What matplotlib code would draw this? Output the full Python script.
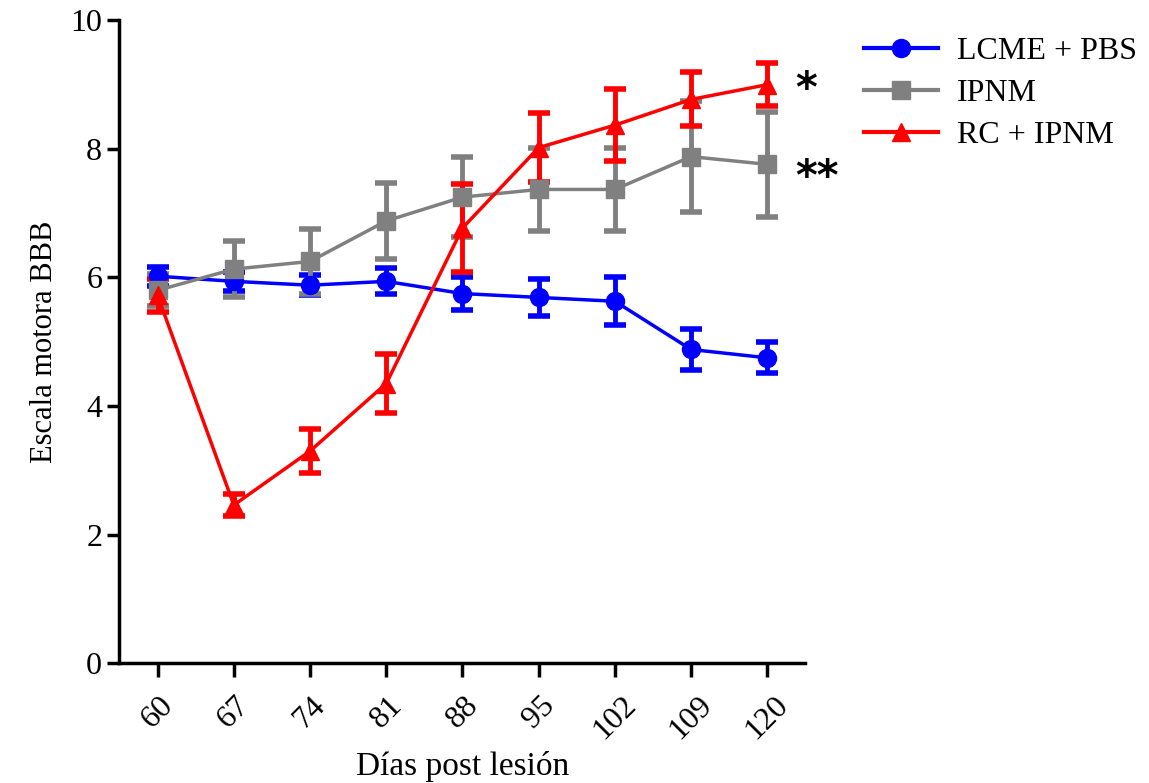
import numpy as np
import matplotlib.pyplot as plt
from matplotlib.lines import Line2D

plt.rcParams['font.family'] = ['Liberation Serif', 'DejaVu Serif']

# Days after injury (categorical x axis)
days = ["60", "67", "74", "81", "88", "95", "102", "109", "120"]

# BBB locomotor score, mean and error
lcme_mean = [6.02, 5.94, 5.88, 5.94, 5.75, 5.69, 5.63, 4.88, 4.75]
lcme_err = [0.15, 0.15, 0.16, 0.20, 0.25, 0.29, 0.37, 0.32, 0.24]

ipnm_mean = [5.80, 6.13, 6.25, 6.88, 7.25, 7.37, 7.37, 7.88, 7.76]
ipnm_err = [0.25, 0.44, 0.50, 0.59, 0.62, 0.65, 0.65, 0.86, 0.82]

rc_mean = [5.72, 2.46, 3.30, 4.35, 6.77, 8.02, 8.37, 8.77, 9.00]
rc_err = [0.25, 0.17, 0.34, 0.46, 0.68, 0.54, 0.56, 0.42, 0.33]

series = [
    ("LCME + PBS", lcme_mean, lcme_err, "#0000ff", "o"),
    ("IPNM", ipnm_mean, ipnm_err, "#808080", "s"),
    ("RC + IPNM", rc_mean, rc_err, "#ff0000", "^"),
]

x = np.arange(len(days))

fig = plt.figure(figsize=(11.49, 7.83), dpi=100)
ax = fig.add_axes([0.104, 0.153, 0.597, 0.821])

handles = []
for name, mean, err, col, mk in series:
    ax.errorbar(x, mean, yerr=err, color=col, marker=mk, markersize=13,
                linewidth=2.5, elinewidth=3.5, capsize=8, capthick=4,
                clip_on=False)
    handles.append(Line2D([], [], color=col, marker=mk, markersize=13,
                          linewidth=3, label=name))

# significance marks
ax.text(8.36, 8.91, "*", fontsize=30, fontweight="bold", family="DejaVu Sans",
        ha="left", va="center")
ax.text(8.36, 7.55, "**", fontsize=30, fontweight="bold", family="DejaVu Sans",
        ha="left", va="center")

ax.set_xlim(-0.5, 8.5)
ax.set_ylim(0, 10)
ax.set_xticks(x)
ax.set_xticklabels(days, rotation=45, ha="center", fontsize=23)
ax.set_yticks([0, 2, 4, 6, 8, 10])
ax.tick_params(axis="y", labelsize=23, width=2.5, length=9)
ax.tick_params(axis="x", width=2.5, length=10, pad=10)

for s in ["top", "right"]:
    ax.spines[s].set_visible(False)
for s in ["left", "bottom"]:
    ax.spines[s].set_linewidth(2.5)

ax.set_xlabel("Días post lesión", fontsize=24, labelpad=4)
ax.set_ylabel("Escala motora BBB", fontsize=22, labelpad=8)

fig.legend(handles=handles, loc="upper left", bbox_to_anchor=(0.727, 0.99),
           frameon=False, fontsize=23, handlelength=2.3, labelspacing=0.4,
           handletextpad=0.6)

fig.savefig("out.png", dpi=100)
